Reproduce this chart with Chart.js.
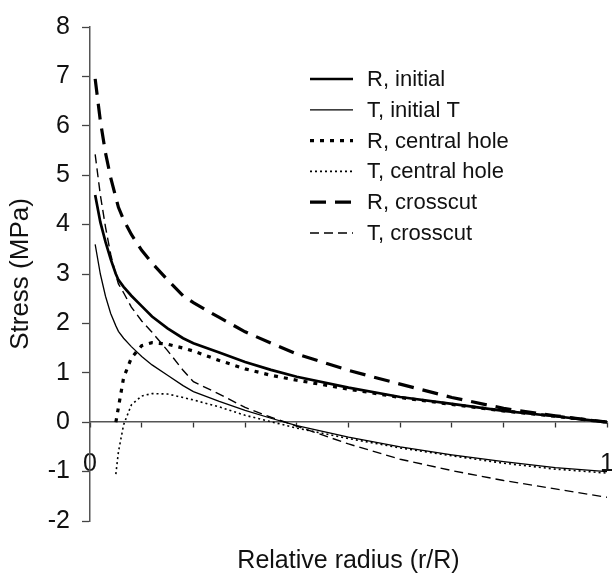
<!DOCTYPE html>
<html>
<head>
<meta charset="utf-8">
<title>Stress vs relative radius</title>
<script src="https://cdn.jsdelivr.net/npm/chart.js@4.4.1/dist/chart.umd.min.js"></script>
<style>
  html, body { margin: 0; padding: 0; background: #fff; }
  #wrap { width: 612px; height: 576px; }
</style>
</head>
<body>
<div id="wrap"><canvas id="stressChart" width="612" height="576"></canvas></div>
<script>
/* ============================================================
   STRESS PROFILES (r/R vs MPa)
   ============================================================ */

const radius        = [0.01, 0.02, 0.03, 0.04, 0.05, 0.055, 0.065, 0.08, 0.1, 0.12, 0.15, 0.18, 0.2, 0.25, 0.3, 0.35, 0.4, 0.5, 0.6, 0.7, 0.8, 0.9, 1.0];
const rInitial      = [4.6, 4.05, 3.65, 3.3, 3.0, 2.88, 2.74, 2.56, 2.35, 2.14, 1.9, 1.7, 1.6, 1.41, 1.22, 1.06, 0.92, 0.70, 0.51, 0.37, 0.23, 0.12, 0.0];
const tInitial      = [3.6, 3.0, 2.55, 2.2, 1.95, 1.84, 1.7, 1.53, 1.33, 1.16, 0.95, 0.74, 0.62, 0.42, 0.24, 0.08, -0.07, -0.3, -0.5, -0.66, -0.8, -0.92, -1.0];
const rCentralHole  = [null, null, null, null, 0.0, 0.3, 0.9, 1.3, 1.55, 1.61, 1.58, 1.5, 1.44, 1.25, 1.08, 0.95, 0.85, 0.67, 0.5, 0.36, 0.23, 0.12, 0.0];
const tCentralHole  = [null, null, null, null, -1.05, -0.6, -0.05, 0.35, 0.53, 0.58, 0.57, 0.5, 0.45, 0.31, 0.14, 0.01, -0.12, -0.33, -0.52, -0.68, -0.83, -0.95, -1.03];
const rCrosscut     = [6.95, 6.1, 5.45, 4.95, 4.55, 4.35, 4.1, 3.8, 3.48, 3.22, 2.88, 2.56, 2.42, 2.12, 1.83, 1.6, 1.38, 1.05, 0.77, 0.5, 0.28, 0.13, 0.0];
const tCrosscut     = [5.42, 4.6, 3.95, 3.4, 2.98, 2.8, 2.62, 2.33, 2.05, 1.82, 1.45, 1.05, 0.82, 0.57, 0.3, 0.1, -0.08, -0.44, -0.75, -0.98, -1.18, -1.35, -1.52];
const seriesLabels  = ['R, initial', 'T, initial T', 'R, central hole', 'T, central hole', 'R, crosscut', 'T, crosscut'];

const FONT = '"Liberation Sans", Arial, Helvetica, sans-serif';
Chart.defaults.font.family = FONT;

function toPoints(values) {
  return radius.map((r, i) => ({ x: r, y: values[i] })).filter(p => p.y !== null);
}

// line styles per series, same order as seriesLabels
const styles = [
  { width: 2.7, dash: [] },
  { width: 1.3, dash: [] },
  { width: 3.2, dash: [4, 6] },
  { width: 1.6, dash: [2, 3] },
  { width: 3.2, dash: [16, 9] },
  { width: 1.4, dash: [9, 5] },
];

const seriesValues = [rInitial, tInitial, rCentralHole, tCentralHole, rCrosscut, tCrosscut];

const datasets = seriesValues.map((vals, i) => ({
  label: seriesLabels[i],
  data: toPoints(vals),
  borderColor: '#000',
  backgroundColor: '#000',
  borderWidth: styles[i].width,
  borderDash: styles[i].dash,
  pointRadius: 0,
  tension: 0,
  fill: false,
}));

// legend drawn inside the plot, top right
const insideLegend = {
  id: 'insideLegend',
  afterDatasetsDraw(chart) {
    const ctx = chart.ctx;
    ctx.save();
    chart.data.datasets.forEach((ds, i) => {
      const y = 79 + i * 30.8;
      ctx.beginPath();
      ctx.setLineDash(ds.borderDash || []);
      ctx.lineWidth = ds.borderWidth;
      ctx.strokeStyle = ds.borderColor;
      ctx.moveTo(310, y);
      ctx.lineTo(353, y);
      ctx.stroke();
      ctx.setLineDash([]);
      ctx.fillStyle = '#111';
      ctx.font = '22px ' + FONT;
      ctx.textBaseline = 'middle';
      ctx.textAlign = 'left';
      ctx.fillText(ds.label, 367, y + 1);
    });
    ctx.restore();
  }
};

new Chart(document.getElementById('stressChart').getContext('2d'), {
  type: 'line',
  data: { datasets },
  plugins: [insideLegend],
  options: {
    responsive: false,
    animation: false,
    layout: { padding: { top: 23, right: 5, bottom: 55, left: 0 } },
    plugins: { legend: { display: false }, tooltip: { enabled: false } },
    scales: {
      x: {
        type: 'linear',
        min: 0,
        max: 1,
        position: { y: 0 },
        grid: { display: true, drawOnChartArea: false, drawTicks: true, tickLength: 5, tickColor: '#333', tickWidth: 1.3 },
        border: { display: true, color: '#555', width: 1.5 },
        ticks: {
          stepSize: 0.1,
          autoSkip: false,
          maxRotation: 0,
          padding: 22,
          color: '#111',
          font: { size: 25 },
          callback: v => (v === 0 || v === 1) ? String(v) : ''
        },
        title: { display: true, text: 'Relative radius (r/R)', color: '#111', font: { size: 25 }, padding: { top: 45, bottom: 0 } },
        afterFit(scale) { scale.paddingLeft = 0; scale.paddingRight = 0; }
      },
      y: {
        type: 'linear',
        min: -2,
        max: 8,
        position: 'left',
        grid: { display: true, drawOnChartArea: false, tickLength: 8, tickColor: '#444', tickWidth: 1.3 },
        border: { display: true, color: '#555', width: 1.5 },
        ticks: { stepSize: 1, padding: 12, color: '#111', font: { size: 25 } },
        title: { display: true, text: 'Stress (MPa)', color: '#111', font: { size: 26 }, padding: { top: 5, bottom: 0 } },
        afterFit(scale) { scale.width = 90; }
      }
    }
  }
});
</script>
</body>
</html>
